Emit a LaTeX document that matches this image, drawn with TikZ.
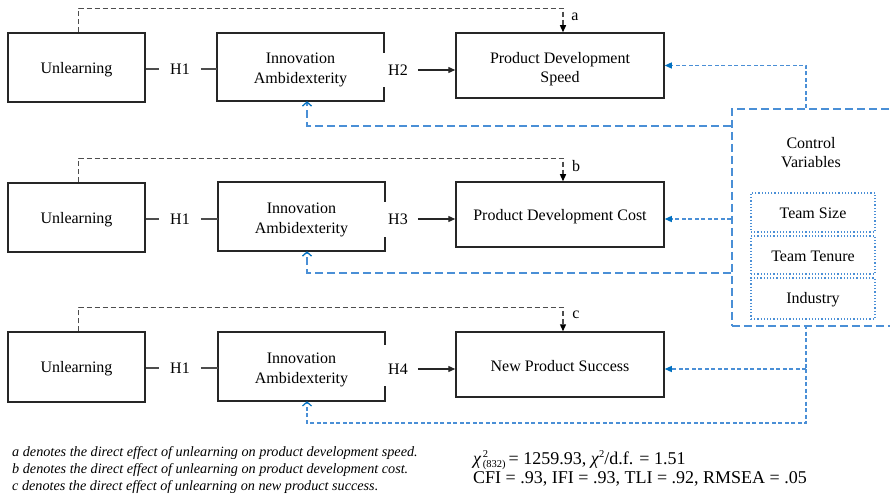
\documentclass[tikz,border=0pt]{standalone}
\usepackage{fontspec}
\setmainfont{Liberation Serif}
\usetikzlibrary{arrows.meta}
\definecolor{boxline}{HTML}{262626}
\definecolor{pathgray}{HTML}{4D4D4D}
\definecolor{ctrlblue}{HTML}{4A8FD6}
\definecolor{tipblue}{HTML}{0070C0}
% invisible strut that lowers the text inside the boxes a little
\newcommand{\lowtext}[1]{\rule{0pt}{#1pt}}
% chi-square with stacked superscript 2 and subscript degrees of freedom
\newcommand{\chisq}[1]{\textit{χ}\kern1.5pt\raisebox{-2.5pt}{\fontsize{10.5}{10.5}\selectfont\shortstack[l]{2\\#1}}}
\begin{document}
\begin{tikzpicture}[x=1pt,y=-1pt,
  every node/.style={font=\fontsize{16}{19}\selectfont, inner sep=0pt},
  varbox/.style={draw=boxline, line width=1.5pt, align=center},
  openbox/.style={align=center, font=\fontsize{16}{20}\selectfont},
  outbox/.style={draw=boxline, line width=1.5pt, align=center, minimum width=208pt, minimum height=65pt},
  boxedge/.style={draw=boxline, line width=1.5pt},
  hyplabel/.style={inner xsep=11pt},
  hypline/.style={draw=pathgray, line width=1.2pt},
  hyparrow/.style={draw=boxline, line width=1.3pt, -{Triangle[length=7pt,width=6pt]}},
  directpath/.style={draw=pathgray, line width=1.3pt, dash pattern=on 5pt off 3pt,
    -{Triangle[length=7pt,width=6pt,color=black]}},
  ctrlframe/.style={draw=ctrlblue, line width=1.6pt, dash pattern=on 8pt off 4pt},
  ctrlitem/.style={draw=ctrlblue, line width=1.2pt, dotted, minimum width=124pt, minimum height=39pt},
  ctrlshort/.style={draw=ctrlblue, line width=1.2pt, dash pattern=on 4pt off 2.5pt},
  ctrlarrow/.style={ctrlshort, -{Triangle[length=7pt,width=6pt,color=tipblue]}},
  ctrlopen/.style={draw=ctrlblue, line width=1.3pt, dash pattern=on 8pt off 4pt,
    -{Straight Barb[length=4pt,width=9pt,color=tipblue]}},
  ctrlopenshort/.style={ctrlshort, -{Straight Barb[length=4pt,width=9pt,color=tipblue]}},
]
\useasboundingbox (0,0) rectangle (890,494);

% ---------- row 1: speed ----------
\node[varbox, minimum width=137pt, minimum height=69pt] (u1) at (76.5,67.5) {\lowtext{15}Unlearning};
\node[hyplabel] (h1a) at (180,69) {H1};
\node[openbox, minimum width=167pt, minimum height=68pt] (i1) at (300.5,67) {\lowtext{17}Innovation\\Ambidexterity};
\node[hyplabel, inner xsep=10pt] (h2) at (398,70) {H2};
\node[outbox] (o1) at (560,65.5) {\lowtext{18}Product Development\\Speed};
\node (la) at (575,17) {a};

% ---------- row 2: cost ----------
\node[varbox, minimum width=137pt, minimum height=69pt] (u2) at (76.5,217.5) {\lowtext{15}Unlearning};
\node[hyplabel] (h1b) at (180,219) {H1};
\node[openbox, minimum width=167pt, minimum height=69pt] (i2) at (301.5,216.5) {\lowtext{17}Innovation\\Ambidexterity};
\node[hyplabel, inner xsep=10pt] (h3) at (398,219) {H3};
\node[outbox] (o2) at (560,214.5) {\lowtext{15}Product Development Cost};
\node (lb) at (576,166) {b};

% ---------- row 3: success ----------
\node[varbox, minimum width=137pt, minimum height=70pt] (u3) at (76.5,367) {\lowtext{15}Unlearning};
\node[hyplabel] (h1c) at (180,368) {H1};
\node[openbox, minimum width=167pt, minimum height=69pt] (i3) at (301.5,366.5) {\lowtext{17}Innovation\\Ambidexterity};
\node[hyplabel, inner xsep=10pt] (h4) at (398,369) {H4};
\node[outbox] (o3) at (560,364.5) {\lowtext{15}New Product Success};
\node (lc) at (576,315) {c};

% innovation boxes: right side left open for the hypothesis label
\draw[boxedge] (i1.north east) ++(0,20) -- (i1.north east) -- (i1.north west) -- (i1.south west) -- (i1.south east) -- ++(0,-14);
\draw[boxedge] (i2.north east) ++(0,20) -- (i2.north east) -- (i2.north west) -- (i2.south west) -- (i2.south east) -- ++(0,-14);
\draw[boxedge] (i3.north east) ++(0,13) -- (i3.north east) -- (i3.north west) -- (i3.south west) -- (i3.south east) -- ++(0,-15);

% hypothesised paths
\foreach \u/\h/\i/\hh/\o in {u1/h1a/i1/h2/o1, u2/h1b/i2/h3/o2, u3/h1c/i3/h4/o3}{
  \draw[hypline] (\h.west -| \u.east) -- (\h.west);
  \draw[hypline] (\h.east) -- (\h.east -| \i.west);
  \draw[hyparrow] (\hh.east) -- (\hh.east -| \o.west);
}

% direct effects a, b, c
\draw[directpath] ([xshift=2pt]u1.north) -- ++(0,-24) -| ([xshift=3pt]o1.north);
\draw[directpath] ([xshift=2pt]u2.north) -- ++(0,-24) -| ([xshift=3pt]o2.north);
\draw[directpath] ([xshift=2pt]u3.north) -- ++(0,-24) -| ([xshift=3pt]o3.north);

% ---------- control variables ----------
\node[ctrlframe, minimum width=180pt, minimum height=217pt, anchor=north west] (cv) at (731,108) {};
\node[align=center] (cvt) at (811,153) {Control\\Variables};
\node[ctrlitem] (tsize) at (813,212.5) {\lowtext{13}Team Size};
\node[ctrlitem, minimum height=38pt] (tten) at (813,255) {\lowtext{13}Team Tenure};
\node[ctrlitem, minimum height=41pt] (tind) at (813,298.5) {\lowtext{13}Industry};

\coordinate (c1top) at (806,108);
\coordinate (c1side) at (731,126);
\coordinate (c2) at (731,219);
\coordinate (c2side) at (731,273);
\coordinate (c3bot) at (806,325);
\coordinate (c3) at (806,369);
\coordinate (c3low) at (806,423);

\draw[ctrlarrow] (c1top) |- (o1.east);
\draw[ctrlopen] (c1side) -| ([xshift=6.5pt]i1.south);
\draw[ctrlarrow] (c2) -- (c2 -| o2.east);
\draw[ctrlopen] (c2side) -| ([xshift=5.5pt]i2.south);
\draw[ctrlshort] (c3bot) -- (c3);
\draw[ctrlarrow] (c3) -- (c3 -| o3.east);
\draw[ctrlopenshort] (c3) -- (c3low) -| ([xshift=5.5pt]i3.south);

% ---------- notes and fit indices ----------
\node[anchor=north west, align=left, font=\fontsize{14.2}{17}\selectfont\itshape] (notes) at (12,446)
  {a denotes the direct effect of unlearning on product development speed.\\
   b denotes the direct effect of unlearning on product development cost.\\
   c denotes the direct effect of unlearning on new product success.};
\node[anchor=north west, align=left, font=\fontsize{18}{19}\selectfont] (fit) at (473,450)
  {\chisq{(832)}\,= 1259.93,
   \textit{χ}\raisebox{7pt}{\fontsize{10.5}{10.5}\selectfont 2}/d.f. = 1.51\\
   CFI = .93, IFI = .93, TLI = .92, RMSEA = .05};
\end{tikzpicture}
\end{document}
